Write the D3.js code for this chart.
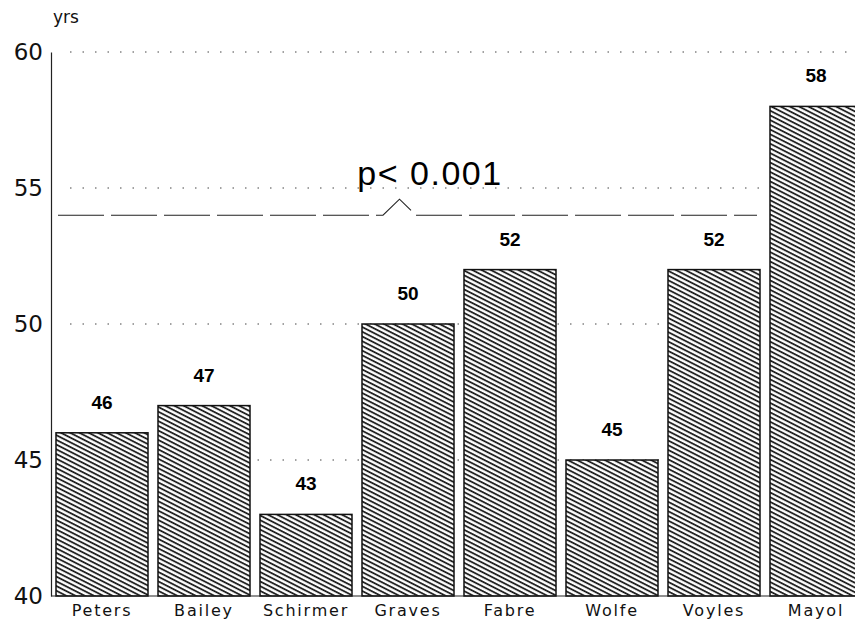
<!DOCTYPE html>
<html>
<head>
<meta charset="utf-8">
<script src="https://cdn.jsdelivr.net/npm/d3@7"></script>
<style>
  body { margin: 0; background: #fff; }
  svg { display: block; }
  .tick-label { font-family: "DejaVu Sans", sans-serif; fill: #111; }
</style>
</head>
<body>
<svg id="chart" width="855" height="623"></svg>
<script>
// data
const surgeons = ['Peters', 'Bailey', 'Schirmer', 'Graves', 'Fabre', 'Wolfe', 'Voyles', 'Mayol'];
const meanAge = [46, 47, 43, 50, 52, 45, 52, 58];
const yTicks = [40, 45, 50, 55, 60];
const gridTicks = [45, 50, 55, 60];
const pBracketValue = 54;
const pLabel = 'p< 0.001';

const svg = d3.select('#chart');

// scales
const x = d3.scaleBand()
  .domain(surgeons)
  .range([51, 867])
  .paddingInner(0.098)
  .paddingOuter(0.049);

const y = d3.scaleLinear()
  .domain([40, 60])
  .range([596, 52]);

// hatch pattern
const defs = svg.append('defs');
const pat = defs.append('pattern')
  .attr('id', 'hatch')
  .attr('patternUnits', 'userSpaceOnUse')
  .attr('width', 8)
  .attr('height', 4.2)
  .attr('patternTransform', 'rotate(27)');
pat.append('rect').attr('width', 8).attr('height', 4.2).attr('fill', '#fff');
pat.append('line')
  .attr('x1', 0).attr('x2', 8)
  .attr('y1', 1).attr('y2', 1)
  .attr('stroke', '#111')
  .attr('stroke-width', 1.7);

// dotted grid
svg.append('g')
  .selectAll('line')
  .data(gridTicks)
  .join('line')
  .attr('x1', 70)
  .attr('x2', 855)
  .attr('y1', d => y(d))
  .attr('y2', d => y(d))
  .attr('stroke', '#444')
  .attr('stroke-width', 1)
  .attr('stroke-dasharray', '1.5,11');

// bars
svg.append('g')
  .selectAll('rect')
  .data(surgeons)
  .join('rect')
  .attr('x', d => x(d))
  .attr('y', (d, i) => y(meanAge[i]))
  .attr('width', x.bandwidth())
  .attr('height', (d, i) => y(40) - y(meanAge[i]))
  .attr('fill', 'url(#hatch)')
  .attr('stroke', '#111')
  .attr('stroke-width', 1.5);

// value labels
svg.append('g')
  .selectAll('text')
  .data(surgeons)
  .join('text')
  .attr('x', d => x(d) + x.bandwidth() / 2)
  .attr('y', (d, i) => y(meanAge[i]) - 24)
  .attr('text-anchor', 'middle')
  .attr('font-family', 'Liberation Sans, Arial, sans-serif')
  .attr('font-weight', 'bold')
  .attr('font-size', 19)
  .text((d, i) => meanAge[i]);

// y axis
const yAxis = d3.axisLeft(y)
  .tickValues(yTicks)
  .tickSize(0)
  .tickPadding(8)
  .tickFormat(d3.format('d'));

const gy = svg.append('g')
  .attr('transform', 'translate(51,0)')
  .call(yAxis);
gy.select('.domain').attr('stroke', '#222').attr('stroke-width', 1.2);
gy.selectAll('.tick text')
  .attr('class', 'tick-label')
  .attr('font-size', 23);

// baseline
svg.append('line')
  .attr('x1', 51).attr('x2', 855)
  .attr('y1', y(40)).attr('y2', y(40))
  .attr('stroke', '#222')
  .attr('stroke-width', 1.2);

// x axis labels
const xAxis = d3.axisBottom(x).tickSize(0).tickPadding(9);
const gx = svg.append('g')
  .attr('transform', `translate(0,${y(40)})`)
  .call(xAxis);
gx.select('.domain').remove();
gx.selectAll('.tick text')
  .attr('class', 'tick-label')
  .attr('font-size', 16)
  .attr('letter-spacing', 1.8);

// unit label
svg.append('text')
  .attr('class', 'tick-label')
  .attr('x', 53)
  .attr('y', 23)
  .attr('font-size', 17)
  .text('yrs');

// significance bracket line with a caret
const by = y(pBracketValue);
const caretX0 = 383, caretX1 = 416;
const bracket = d3.line()([
  [58, by], [caretX0, by], [(caretX0 + caretX1) / 2, by - 16], [caretX1, by], [757, by]
]);
svg.append('path')
  .attr('d', bracket)
  .attr('fill', 'none')
  .attr('stroke', '#222')
  .attr('stroke-width', 1.1)
  .attr('stroke-dasharray', '46,7');

svg.append('text')
  .attr('x', 430)
  .attr('y', 185)
  .attr('text-anchor', 'middle')
  .attr('font-family', 'Liberation Sans, Arial, sans-serif')
  .attr('font-size', 34)
  .attr('letter-spacing', 1.5)
  .text(pLabel);
</script>
</body>
</html>
